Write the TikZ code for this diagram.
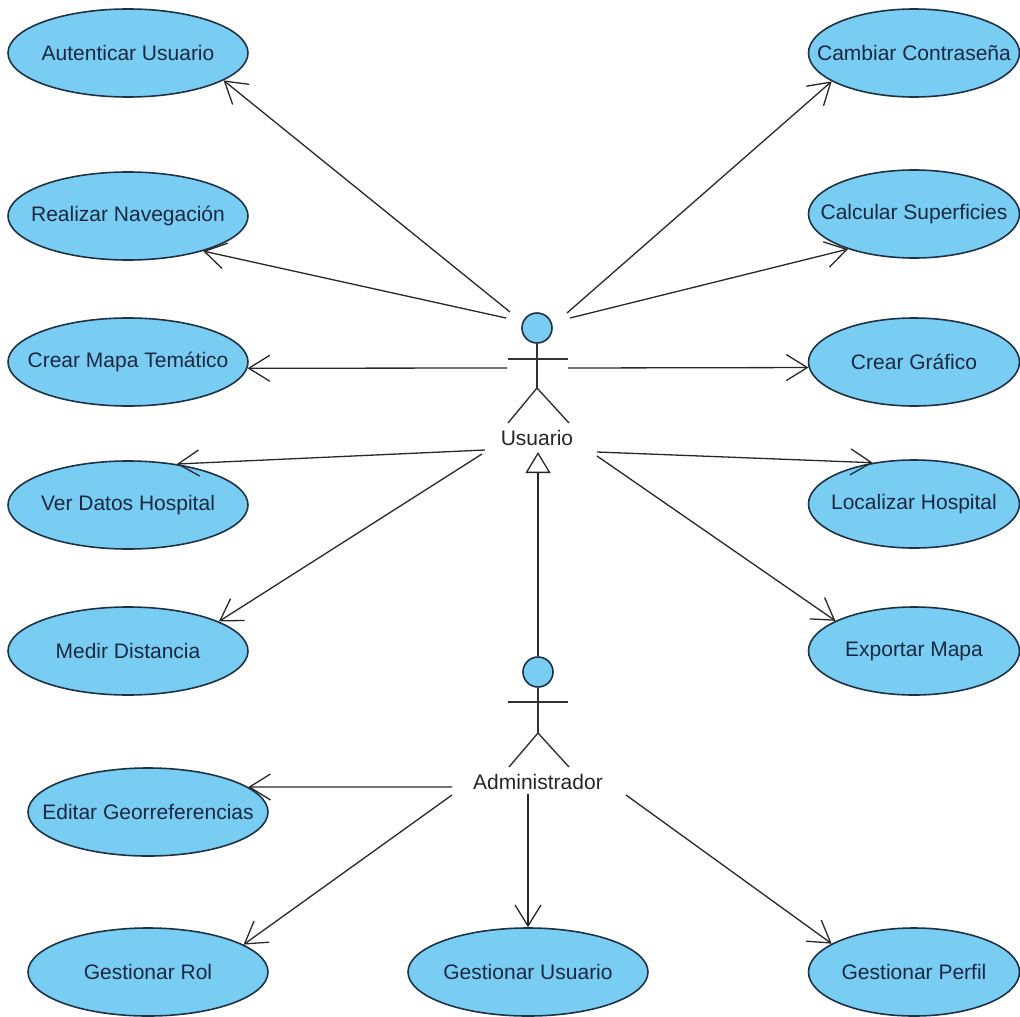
\documentclass[tikz,border=0pt]{standalone}
\usepackage{fontspec}
\setmainfont{Liberation Sans}
\usetikzlibrary{shapes.geometric,arrows.meta}
\definecolor{ucfill}{RGB}{122,205,242}
\definecolor{ucdraw}{RGB}{30,50,70}
\definecolor{uctext}{RGB}{25,40,65}
\definecolor{conn}{RGB}{40,40,40}
\tikzset{
 uc/.style={ellipse, draw=ucdraw, fill=ucfill, line width=1.6pt, minimum width=240pt, minimum height=88pt, inner sep=0pt, text=uctext, font=\fontsize{21}{24}\selectfont},
 ucr/.style={uc, minimum width=211pt},
 assoc/.style={draw=conn, line width=1.3pt, -{Straight Barb[length=21pt,width=26pt,line width=1.3pt]}},
 gen/.style={draw=conn, line width=1.3pt, -{Triangle[open,length=21pt,width=25pt,line width=1.3pt]}},
 actorline/.style={draw=black!80, line width=1.4pt},
 head/.style={circle, draw=ucdraw, fill=ucfill, line width=1.6pt, minimum size=30pt, inner sep=0pt},
 actorlabel/.style={font=\fontsize{21}{24}\selectfont, text=black!85, inner sep=1pt},
}
\begin{document}
\begin{tikzpicture}[x=1pt,y=-1pt]
\useasboundingbox (0,0) rectangle (1020,1017);
\clip (0,0) rectangle (1020,1017);
\fill[white] (0,0) rectangle (1020,1017);
% use cases left
\node[uc] (aut)   at (128,53)  {\makebox[0pt]{Autenticar Usuario}};
\node[uc] (nav)   at (128,216) {\makebox[0pt]{Realizar Navegación}};
\node[uc] (mapa)  at (128,362) {\makebox[0pt]{Crear Mapa Temático}};
\node[uc] (ver)   at (128,505) {\makebox[0pt]{Ver Datos Hospital}};
\node[uc] (medir) at (128,651) {\makebox[0pt]{Medir Distancia}};
\node[uc] (edit)  at (148,812) {\makebox[0pt]{Editar Georreferencias}};
\node[uc] (rol)   at (148,972) {\makebox[0pt]{Gestionar Rol}};
\node[uc] (gusu)  at (528,972) {\makebox[0pt]{Gestionar Usuario}};
% use cases right
\node[ucr] (camb)  at (914,53)  {\makebox[0pt]{Cambiar Contraseña}};
\node[ucr] (calc)  at (914,214) {\makebox[0pt]{Calcular Superficies}};
\node[ucr] (graf)  at (914,362) {\makebox[0pt]{Crear Gráfico}};
\node[ucr] (loc)   at (914,504) {\makebox[0pt]{Localizar Hospital}};
\node[ucr] (exp)   at (914,651) {\makebox[0pt]{Exportar Mapa}};
\node[ucr] (perf)  at (914,972) {\makebox[0pt]{Gestionar Perfil}};
% actor Usuario
\node[head] (uhead) at (537,328) {};
\coordinate (ucrotch) at (537,388);
\draw[actorline] (uhead.south) -- (ucrotch);
\draw[actorline] (508,359) -- (568,359);
\draw[actorline] (508,423) -- (ucrotch) -- (569,423);
\node[actorlabel] (usuario) at (537,438) {Usuario};
% actor Administrador
\node[head] (ahead) at (538,672) {};
\coordinate (acrotch) at (538,733);
\draw[actorline] (ahead.south) -- (acrotch);
\draw[actorline] (508,702) -- (568,702);
\draw[actorline] (509,767) -- (acrotch) -- (569,767);
\node[actorlabel] (admin) at (538,782) {Administrador};
% generalization
\coordinate (gtip) at (538,452);
\draw[gen] (ahead.north) -- (gtip);
% start points near Usuario
\coordinate (s-aut) at (510,312);
\coordinate (s-nav) at (506,318);
\coordinate (s-mapa) at (507,368);
\coordinate (s-ver) at (485,450);
\coordinate (s-medir) at (482,454);
\coordinate (s-camb) at (567,313);
\coordinate (s-calc) at (570,318);
\coordinate (s-graf) at (568,368);
\coordinate (s-loc) at (597,452);
\coordinate (s-exp) at (597,456);
% start points near Administrador
\coordinate (s-edit) at (452,787);
\coordinate (s-rol) at (452,795);
\coordinate (s-gusu) at (528,794);
\coordinate (s-perf) at (626,795);
% associations
\draw[assoc] (s-aut) -- (aut.-16);
\draw[assoc] (s-nav) -- (nav.-25);
\draw[assoc] (s-mapa) -- (mapa.-3);
\draw[assoc] (s-ver) -- (ver.40);
\draw[assoc] (s-medir) -- (medir.18);
\draw[assoc] (s-camb) -- (camb.199);
\draw[assoc] (s-calc) -- (calc.208.6);
\draw[assoc] (s-graf) -- (graf.183);
\draw[assoc] (s-loc) -- (loc.135);
\draw[assoc] (s-exp) -- (exp.159);
\draw[assoc] (s-edit) -- (edit.14);
\draw[assoc] (s-rol) -- (rol.16);
\draw[assoc] (s-gusu) -- (gusu.90);
\draw[assoc] (s-perf) -- (perf.161);
\end{tikzpicture}
\end{document}
